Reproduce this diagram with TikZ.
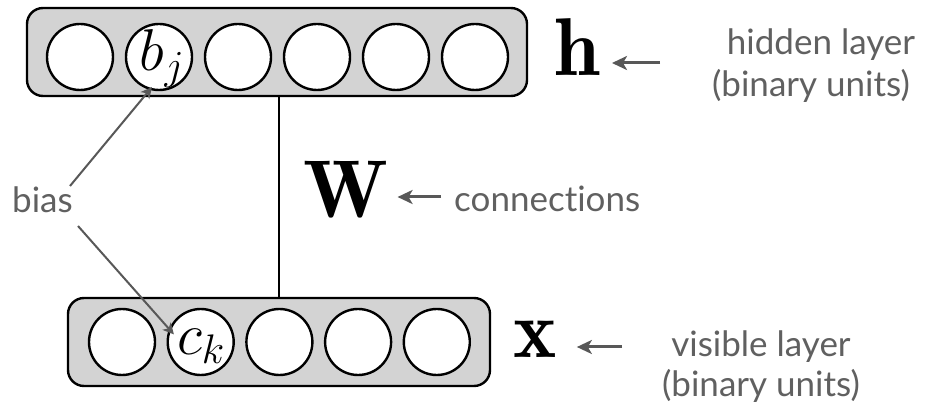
\RequirePackage{fix-cm}
\documentclass[tikz,border=0pt]{standalone}
\usepackage{fontspec}
\newfontfamily\labfont{Lato}[Ligatures={NoCommon,NoRare,NoContextual}]
\usetikzlibrary{arrows.meta}
\definecolor{boxgray}{RGB}{211,211,211}
\definecolor{labgray}{RGB}{96,96,96}
\definecolor{arrgray}{RGB}{88,88,88}
\begin{document}
\begin{tikzpicture}[x=1pt,y=-1pt,
  layer/.style={draw=black, fill=boxgray, line width=2.4pt, rounded corners=16pt, inner sep=0pt},
  unit/.style={draw=black, fill=white, circle, minimum size=66pt, inner sep=0pt, line width=2.4pt},
  bigsym/.style={inner sep=0pt, font=\fontsize{82}{82}\selectfont},
  unitlab/.style={inner sep=0pt, font=\fontsize{59}{59}\selectfont},
  lab/.style={inner sep=0pt, text=labgray, font=\labfont\fontsize{35}{35}\selectfont},
  garrow/.style={draw=arrgray, line width=3pt, -{Stealth[length=15pt,width=14pt,inset=4pt]}},
  biasarrow/.style={draw=arrgray, line width=2pt, -{Stealth[length=11pt,width=11pt,inset=3pt]}},
  conn/.style={draw=black, line width=2.4pt}]
\useasboundingbox (0,0) rectangle (926,411);
% layers
\node[layer, minimum width=500pt, minimum height=88pt] (top) at (277,52) {};
\node[layer, minimum width=422pt, minimum height=88pt] (bot) at (279,342) {};
% hidden units
\foreach \i in {0,...,5} {
  \node[unit] (h\i) at (80+79*\i,57) {};
}
% visible units
\foreach \i in {0,...,4} {
  \node[unit] (v\i) at (122+78.7*\i,342) {};
}
\node[unitlab, anchor=base] (bj) at (162,71) {$b_j$};
\node[unitlab, anchor=base] (ck) at (201,355) {$c_k$};
% connection
\draw[conn] (bot.north) -- (bot.north |- top.south);
% symbols
\node[bigsym, anchor=base] (hsym) at (577,76) {$\mathbf{h}$};
\node[bigsym, anchor=base] (Wsym) at (346,218) {$\mathbf{W}$};
\node[bigsym, anchor=base] (xsym) at (535,358) {$\mathbf{x}$};
% labels
\node[lab, anchor=base] (hid1) at (821,55) {hidden layer};
\node[lab, anchor=base] (hid2) at (811,97) {(binary units)};
\node[lab, anchor=base west] (conlab) at (454,212) {connections};
\node[lab, anchor=base] (vis1) at (761,356) {visible layer};
\node[lab, anchor=base] (vis2) at (761,396) {(binary units)};
\node[lab, anchor=base west] (bias) at (12,213) {bias};
% arrows
\coordinate (ha) at (660,63);
\coordinate (wa) at (441,197);
\coordinate (xa) at (622,347);
\draw[garrow] (ha) -- ([xshift=12pt]ha -| hsym.east);
\draw[garrow] (wa) -- ([xshift=9pt]wa -| Wsym.east);
\draw[garrow] (xa) -- ([xshift=20pt]xa -| xsym.east);
\coordinate (b1) at (70,186);
\coordinate (b2) at (78,226);
\draw[biasarrow] (b1) -- ([xshift=-10pt,yshift=1pt]bj.south);
\draw[biasarrow] (b2) -- ([xshift=-3pt,yshift=-5pt]ck.north west);
\end{tikzpicture}
\end{document}
